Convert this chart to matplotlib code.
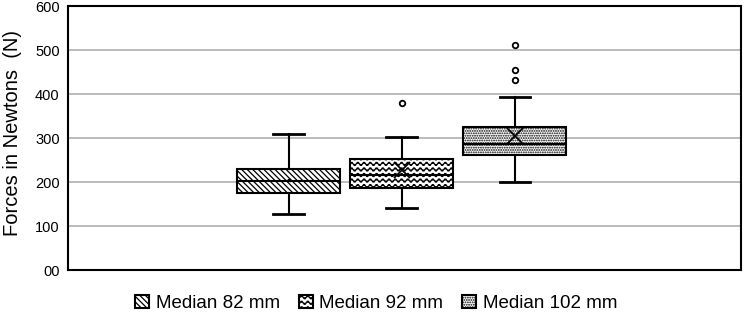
import warnings
import numpy as np
import matplotlib
matplotlib.use("Agg")
import matplotlib.pyplot as plt
from matplotlib import hatch as mhatch
from matplotlib.path import Path

warnings.filterwarnings("ignore")

# data (N)
labels = ["Median 82 mm", "Median 92 mm", "Median 102 mm"]
q1 = [175, 186, 261]
med = [202, 216, 286]
q3 = [230, 252, 325]
whislo = [127, 141, 200]
whishi = [309, 302, 393]
means = [204, 227, 305]
fliers = [[], [380], [511, 455, 432]]
hatches = ["\\\\\\\\\\\\", "~~~", "......."]


# wavy hatch, matplotlib has none built in
class WaveHatch(mhatch.HatchPatternBase):
    npts = 97

    def __init__(self, hatch, density):
        self.num_lines = int(hatch.count("~") * density)
        self.num_vertices = self.num_lines * self.npts

    def set_vertices_and_codes(self, vertices, codes):
        x = np.linspace(0, 1, self.npts)
        for i in range(self.num_lines):
            y0 = (i + 0.5) / self.num_lines
            y = y0 + 0.017 * np.sin(2 * np.pi * 16 * x)
            sl = slice(i * self.npts, (i + 1) * self.npts)
            vertices[sl, 0] = x
            vertices[sl, 1] = y
            codes[sl] = Path.LINETO
            codes[i * self.npts] = Path.MOVETO


mhatch._hatch_types.append(WaveHatch)

plt.rcParams["font.family"] = ["Liberation Sans", "DejaVu Sans"]
plt.rcParams["hatch.linewidth"] = 0.9

stats = []
for i in range(3):
    stats.append(dict(med=med[i], q1=q1[i], q3=q3[i], whislo=whislo[i],
                      whishi=whishi[i], mean=means[i], fliers=fliers[i]))

fig = plt.figure(figsize=(7.45, 3.17), dpi=100)
ax = fig.add_axes([0.0913, 0.148, 0.9033, 0.833])

bp = ax.bxp(stats, positions=[1, 2, 3], widths=0.91, capwidths=0.27,
            patch_artist=True, showmeans=True,
            boxprops=dict(facecolor="white", edgecolor="black", linewidth=1.5),
            medianprops=dict(color="black", linewidth=1.5),
            whiskerprops=dict(color="black", linewidth=1.5),
            capprops=dict(color="black", linewidth=2),
            meanprops=dict(marker="x", markeredgecolor="black", markersize=11,
                           markeredgewidth=1.3),
            flierprops=dict(marker="o", markerfacecolor="white",
                            markeredgecolor="black", markersize=4,
                            markeredgewidth=1.3))
for box, h in zip(bp["boxes"], hatches):
    box.set_hatch(h)
# the first mean marker is lost in the hatch in the original
bp["means"][0].set_markersize(2)

ax.set_xlim(-0.95, 5.0)
ax.set_ylim(0, 600)
ax.set_yticks(range(0, 601, 100))
ax.set_yticklabels(["00", "100", "200", "300", "400", "500", "600"], fontsize=10.5)
ax.set_xticks([])
ax.tick_params(axis="y", length=0, pad=6)
ax.yaxis.grid(True, color="#a8a8a8", linewidth=1.1)
ax.set_axisbelow(True)
for s in ax.spines.values():
    s.set_linewidth(1.5)
    s.set_color("black")

ax.set_ylabel("Forces in Newtons  (N)", fontsize=14.5)
ax.yaxis.set_label_coords(-0.068, 0.52)

fig.legend(bp["boxes"], labels, loc="center", bbox_to_anchor=(0.505, 0.043),
           ncol=3, frameon=False, fontsize=13.5, handlelength=0.75,
           handleheight=0.75, handletextpad=0.35, columnspacing=1.0,
           borderaxespad=0)

fig.savefig("out.png", dpi=100)
